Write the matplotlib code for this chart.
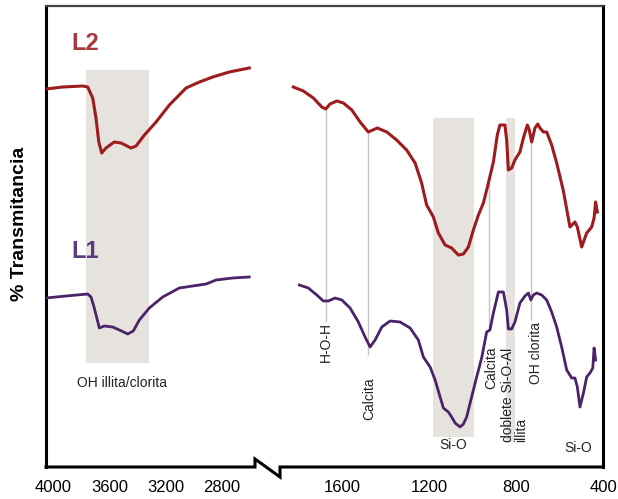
import numpy as np
import matplotlib
matplotlib.use("Agg")
import matplotlib.pyplot as plt
from matplotlib.lines import Line2D

plt.rcParams['font.family'] = ['Liberation Sans', 'DejaVu Sans']

# FTIR spectra (wavenumber cm-1, transmittance in arbitrary units)
l2_left_wn = [4050, 3931, 3789, 3754, 3718, 3695, 3675, 3654, 3624, 3565, 3517,
              3446, 3410, 3351, 3268, 3174, 3055, 2960, 2866, 2748, 2606]
l2_left_t = [378, 380, 381, 380, 369, 349, 325, 314, 319, 325, 324,
             319, 321, 332, 345, 362, 379, 385, 390, 395, 399]

l1_left_wn = [4050, 3908, 3754, 3730, 3707, 3671, 3636, 3576, 3529, 3469, 3430,
              3387, 3316, 3221, 3103, 3008, 2913, 2842, 2724, 2606]
l1_left_t = [169, 171, 173, 170, 159, 139, 141, 140, 137, 133, 136,
             147, 159, 170, 179, 181, 183, 187, 189, 190]

l2_right_wn = [1824, 1778, 1732, 1693, 1675, 1655, 1624, 1594, 1555, 1517, 1479, 1438,
               1394, 1349, 1303, 1264, 1234, 1211, 1180, 1157, 1126, 1096, 1065, 1042,
               1019, 996, 973, 950, 927, 904, 886, 874, 851, 843, 835, 820, 805, 782,
               766, 748, 739, 728, 713, 700, 690, 674, 659, 636, 613, 583, 552, 529,
               518, 498, 475, 452, 441, 434, 426]
l2_right_t = [380, 376, 369, 360, 358, 363, 366, 364, 357, 345, 335, 339,
              335, 327, 317, 304, 284, 262, 250, 234, 222, 219, 212, 213,
              220, 237, 252, 264, 284, 305, 332, 342, 342, 327, 297, 299, 307, 315,
              329, 342, 337, 325, 339, 343, 339, 335, 335, 322, 304, 277, 240, 245,
              240, 220, 234, 240, 249, 265, 255]

l1_right_wn = [1796, 1755, 1716, 1686, 1663, 1632, 1601, 1563, 1525, 1494, 1471, 1448,
               1417, 1379, 1333, 1287, 1249, 1226, 1195, 1172, 1149, 1134, 1111, 1096,
               1080, 1057, 1042, 1027, 1004, 981, 958, 935, 920, 904, 881, 858, 843,
               835, 820, 805, 782, 759, 743, 732, 720, 705, 682, 659, 636, 613, 590,
               567, 544, 529, 518, 506, 490, 475, 460, 447, 441, 434]
l1_right_t = [182, 179, 172, 166, 166, 169, 167, 159, 145, 130, 120, 127,
              140, 146, 145, 139, 127, 110, 100, 87, 70, 59, 55, 50,
              44, 40, 43, 50, 70, 90, 109, 135, 137, 154, 175, 175, 157,
              138, 138, 145, 164, 171, 174, 167, 172, 174, 172, 167, 155, 140, 120,
              97, 89, 89, 80, 60, 74, 90, 94, 99, 119, 107]

# shaded bands
bands_wn = [(3766, 3318), (1182, 993), (846, 805)]
bands_t = [(104, 397), (30, 349), (25, 349)]

# marker lines
marks_wn = [1675, 1479, 924, 729]
marks_lo = [145, 112, 139, 147]
marks_hi = [358, 335, 284, 326]

tick_wn = [4000, 3600, 3200, 2800, 1600, 1200, 800, 400]

# broken wavenumber axis: two linear pieces with different scales
wp = [300, 1926, 2460, 4100]
up = [624.75, 271.1, 269.8, 38.9]


def fwd(w):
    return np.interp(w, wp, up)


def inv(u):
    return np.interp(u, up[::-1], wp[::-1])


fig = plt.figure(figsize=(6.18, 4.99), dpi=100)
ax = fig.add_axes([46 / 618, 32 / 499, 557 / 618, 461 / 499])
ax.set_xscale('function', functions=(fwd, inv))
ax.set_xlim(400, 4050)
ax.set_ylim(0, 461)

band_color = '#e6e3de'
for (w1, w2), (t1, t2) in zip(bands_wn, bands_t):
    ax.fill_between([w1, w2], [t1, t1], [t2, t2], color=band_color, lw=0, zorder=0)

ax.vlines(marks_wn, marks_lo, marks_hi, color='#c4c4c4', lw=1, zorder=1)

red = '#9e1c1e'
purple = '#4a2368'
ax.plot(l2_left_wn, l2_left_t, color=red, lw=2.2, zorder=3)
ax.plot(l2_right_wn, l2_right_t, color=red, lw=2.2, zorder=3)
ax.plot(l1_left_wn, l1_left_t, color=purple, lw=2.0, zorder=3)
ax.plot(l1_right_wn, l1_right_t, color=purple, lw=2.0, zorder=3)

# labels
ax.text(3769, 423, 'L2', color='#a8393d', fontsize=17, fontweight='bold', ha='center', va='center')
ax.text(3769, 216, 'L1', color='#5b3a80', fontsize=17, fontweight='bold', ha='center', va='center')
tc = '#222222'
ax.text(3510, 84, 'OH illita/clorita', fontsize=10, color=tc, ha='center', va='center')
ax.text(1675, 145, 'H-O-H', fontsize=10, color=tc, rotation=90, ha='center', va='top')
ax.text(1476, 90, 'Calcita', fontsize=10, color=tc, rotation=90, ha='center', va='top')
ax.text(912, 121, 'Calcita', fontsize=10, color=tc, rotation=90, ha='center', va='top')
ax.text(806, 25, 'doblete Si-O-Al\nillita', fontsize=10, color=tc, rotation=90,
        ha='center', va='bottom', multialignment='left', linespacing=0.95)
ax.text(710, 145, 'OH clorita', fontsize=10, color=tc, rotation=90, ha='center', va='top')
ax.text(1090, 22, 'Si-O', fontsize=10, color=tc, ha='center', va='center')
ax.text(515, 19, 'Si-O', fontsize=10, color=tc, ha='center', va='center')

ax.set_xticks(tick_wn)
ax.set_xticklabels([str(t) for t in tick_wn], fontsize=12)
ax.tick_params(axis='x', length=0, pad=9)
ax.set_yticks([])

for side in ['left', 'right']:
    ax.spines[side].set_linewidth(2.2)
    ax.spines[side].set_color('black')
ax.spines['top'].set_linewidth(1.6)
ax.spines['top'].set_color('#444444')
ax.spines['bottom'].set_visible(False)

# bottom axis with the zig-zag break
bx = [0, 0.3752, 0.3752, 0.4201, 0.4201, 1]
by = [0, 0, 0.0174, -0.0217, 0, 0]
ax.add_line(Line2D(bx, by, transform=ax.transAxes, color='black', lw=2.2,
                   clip_on=False, solid_joinstyle='miter'))

fig.text(20 / 618, (499 - 224) / 499, '% Transmitancia', rotation=90, fontsize=14,
         fontweight='bold', ha='center', va='center')

fig.savefig('out.png', dpi=100)
